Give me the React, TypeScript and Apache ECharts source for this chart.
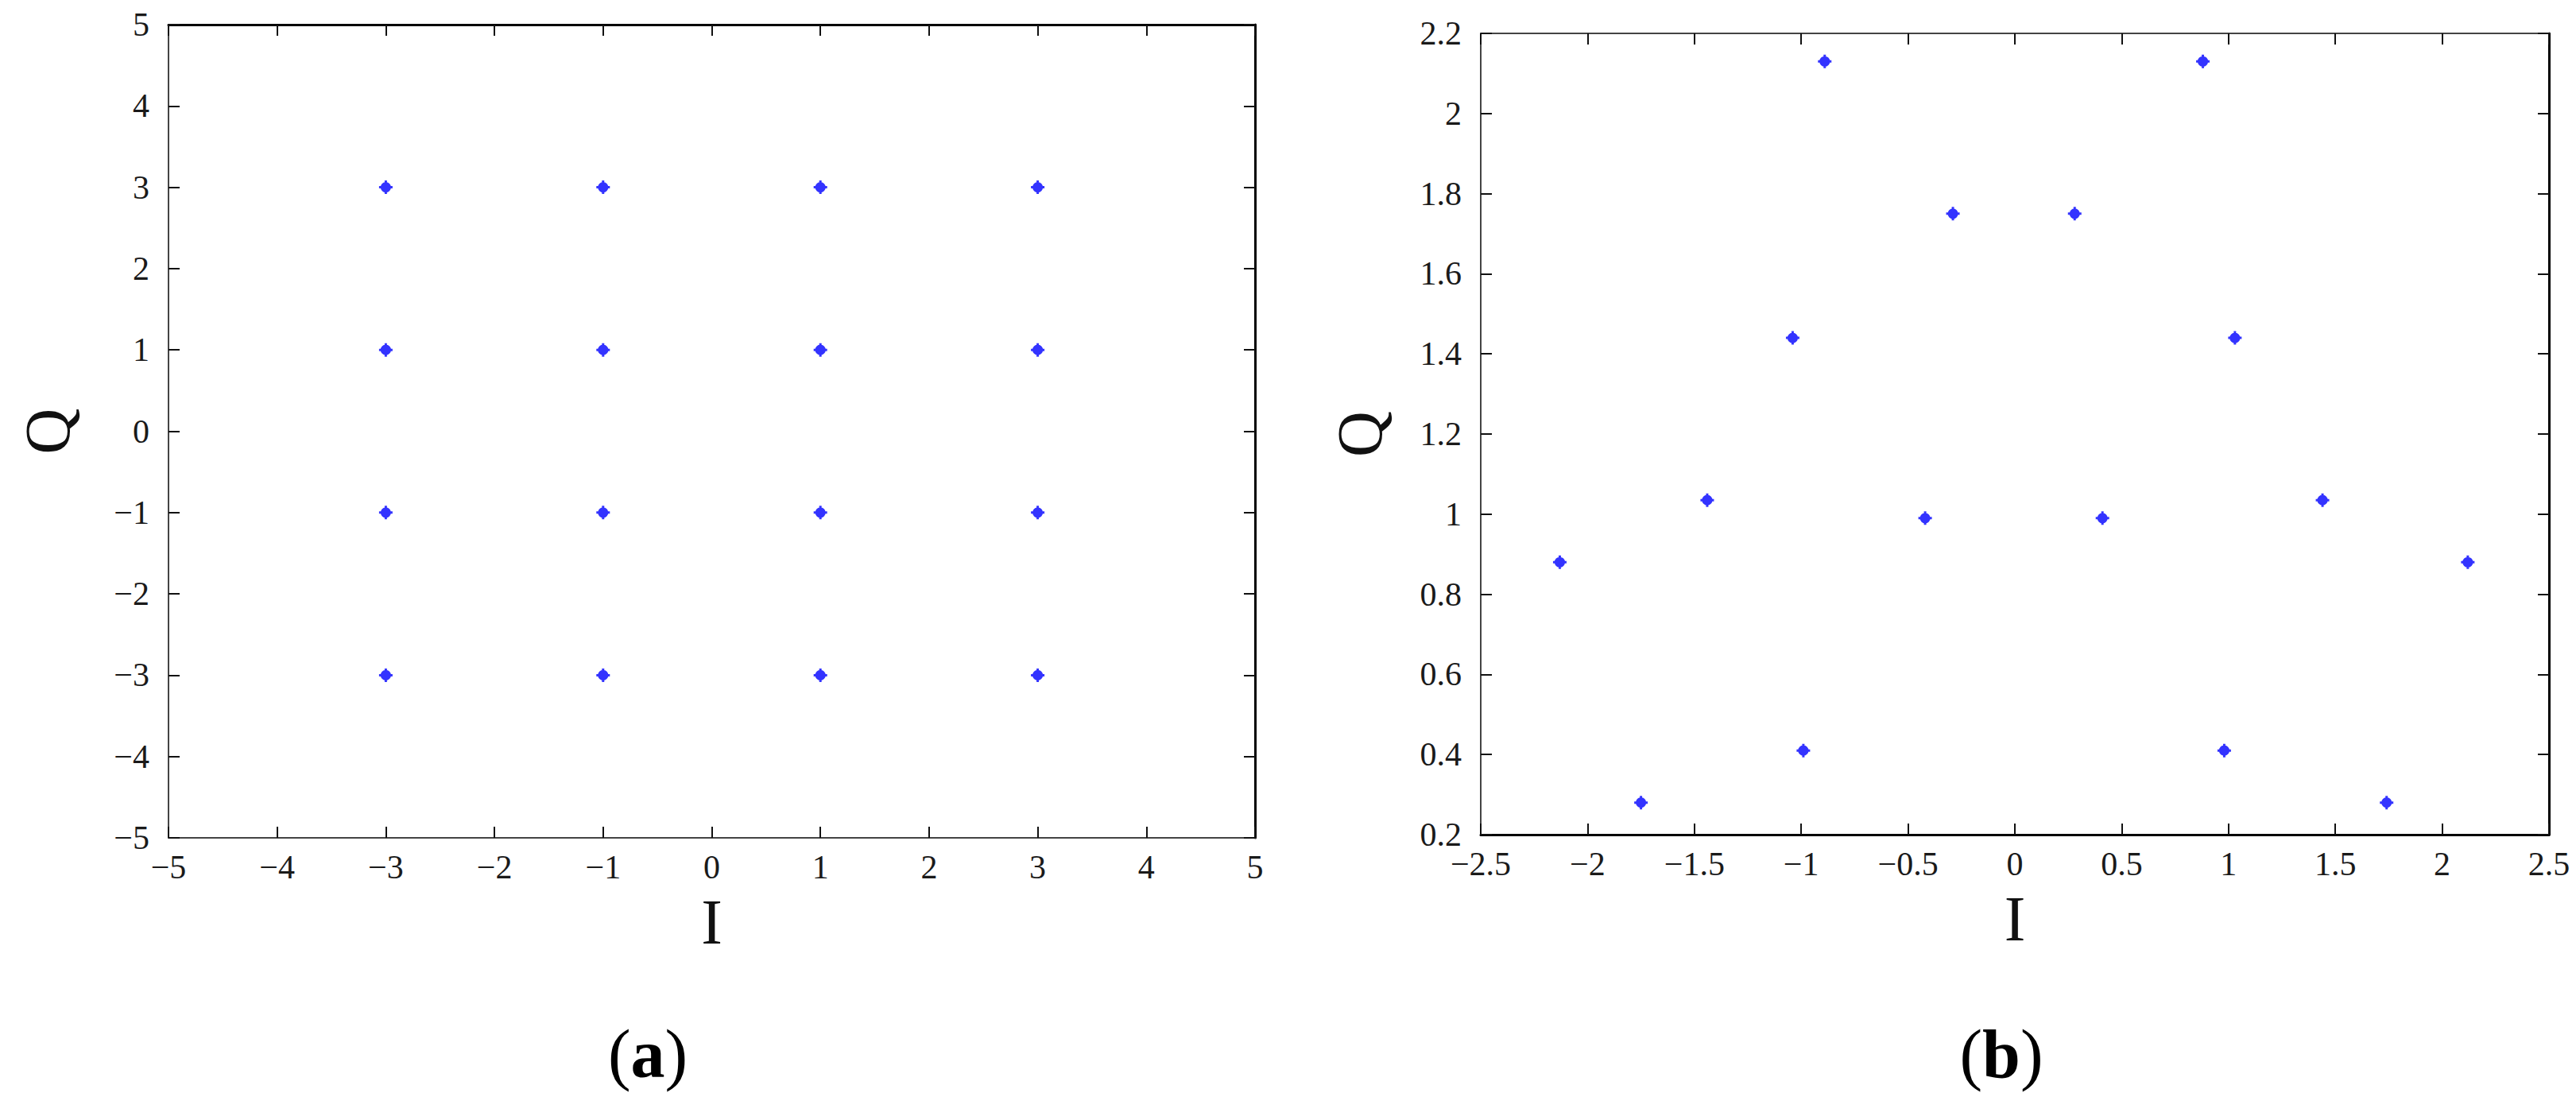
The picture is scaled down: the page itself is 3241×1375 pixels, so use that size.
import React, { useEffect, useRef } from "react";
import * as echarts from "echarts";

// Panel (a): square 16-point constellation
const aI = [-3, -1, 1, 3, -3, -1, 1, 3, -3, -1, 1, 3, -3, -1, 1, 3];
const aQ = [3, 3, 3, 3, 1, 1, 1, 1, -1, -1, -1, -1, -3, -3, -3, -3];
// Panel (b): 16-point constellation
const bI = [-0.89, 0.88, -0.29, 0.28, -1.04, 1.03, -1.44, 1.44, -0.42, 0.41, -2.13, 2.12, -0.99, 0.98, -1.75, 1.74];
const bQ = [2.13, 2.13, 1.75, 1.75, 1.44, 1.44, 1.035, 1.035, 0.99, 0.99, 0.88, 0.88, 0.41, 0.41, 0.28, 0.28];

const aRange = { min: -5, max: 5, interval: 1 };
const bXRange = { min: -2.5, max: 2.5, interval: 0.5 };
const bYRange = { min: 0.2, max: 2.2, interval: 0.2 };

const axisTitleI = "I";
const axisTitleQ = "Q";
const panelLabels = ["a", "b"];

const FONT = '"Liberation Serif", "Times New Roman", serif';
const MARKER =
  "path://M6.6,0 H9.4 V16 H6.6 Z M0,6.6 H16 V9.4 H0 Z M1.8,8 A6.2,6.2 0 1,1 14.2,8 A6.2,6.2 0 1,1 1.8,8 Z";

const fmt = (v: number) => String(v).replace("-", "\u2212");

function makeAxis(
  kind: "x" | "y",
  grid: number,
  range: { min: number; max: number; interval: number },
  position: string,
  main: boolean,
  lineColor: string,
  lineWidth: number
) {
  const ax: any = {
    type: "value",
    gridIndex: grid,
    position,
    min: range.min,
    max: range.max,
    interval: range.interval,
    splitLine: { show: false },
    axisLine: { show: true, onZero: false, lineStyle: { color: lineColor, width: lineWidth } },
    axisTick: { show: true, inside: true, length: 14, lineStyle: { color: "#111", width: 2 } },
    axisLabel: {
      show: main,
      formatter: fmt,
      color: "#1a1a1a",
      fontFamily: FONT,
      fontSize: 42,
      margin: kind === "x" ? 16 : 24,
      showMinLabel: true,
      showMaxLabel: true,
    },
  };
  if (main) {
    ax.name = kind === "x" ? axisTitleI : axisTitleQ;
    ax.nameLocation = "middle";
    ax.nameGap = kind === "x" ? 66 : 112;
    ax.nameRotate = kind === "x" ? 0 : 90;
    ax.nameTextStyle = { fontFamily: FONT, fontSize: 80, color: "#111" };
  }
  return ax;
}

export default function App() {
  const ref = useRef<HTMLDivElement>(null);
  useEffect(() => {
    if (!ref.current) return;
    const chart = echarts.init(ref.current, undefined, { renderer: "svg" });
    const option: any = {
      animation: false,
      backgroundColor: "#ffffff",
      grid: [
        { left: 212, top: 31, width: 1367, height: 1023, outerBoundsMode: "none" },
        { left: 1863, top: 42, width: 1344, height: 1008, outerBoundsMode: "none" },
      ],
      xAxis: [
        makeAxis("x", 0, aRange, "bottom", true, "#444", 2),
        makeAxis("x", 0, aRange, "top", false, "#000", 3),
        makeAxis("x", 1, bXRange, "bottom", true, "#000", 3),
        makeAxis("x", 1, bXRange, "top", false, "#444", 2),
      ],
      yAxis: [
        makeAxis("y", 0, aRange, "left", true, "#444", 2),
        makeAxis("y", 0, aRange, "right", false, "#000", 3),
        makeAxis("y", 1, bYRange, "left", true, "#444", 2),
        makeAxis("y", 1, bYRange, "right", false, "#000", 3),
      ],
      series: [
        {
          type: "scatter",
          xAxisIndex: 0,
          yAxisIndex: 0,
          symbol: MARKER,
          symbolSize: 17,
          itemStyle: { color: "#0000ff" },
          data: aI.map((x, i) => [x, aQ[i]]),
        },
        {
          type: "scatter",
          xAxisIndex: 2,
          yAxisIndex: 2,
          symbol: MARKER,
          symbolSize: 17,
          itemStyle: { color: "#0000ff" },
          data: bI.map((x, i) => [x, bQ[i]]),
        },
      ],
      graphic: [
        {
          type: "text",
          x: 815,
          y: 1326,
          style: {
            text: "({b|" + panelLabels[0] + "})",
            fontFamily: FONT,
            fontSize: 86,
            fill: "#000",
            align: "center",
            verticalAlign: "middle",
            rich: { b: { fontFamily: FONT, fontSize: 86, fontWeight: "bold", fill: "#000" } },
          },
        },
        {
          type: "text",
          x: 2518,
          y: 1326,
          style: {
            text: "({b|" + panelLabels[1] + "})",
            fontFamily: FONT,
            fontSize: 86,
            fill: "#000",
            align: "center",
            verticalAlign: "middle",
            rich: { b: { fontFamily: FONT, fontSize: 86, fontWeight: "bold", fill: "#000" } },
          },
        },
      ],
    };
    chart.setOption(option);
    return () => chart.dispose();
  }, []);
  return (
    <div
      ref={ref}
      style={{ position: "fixed", left: 0, top: 0, width: "3241px", height: "1375px", background: "#fff" }}
    />
  );
}
